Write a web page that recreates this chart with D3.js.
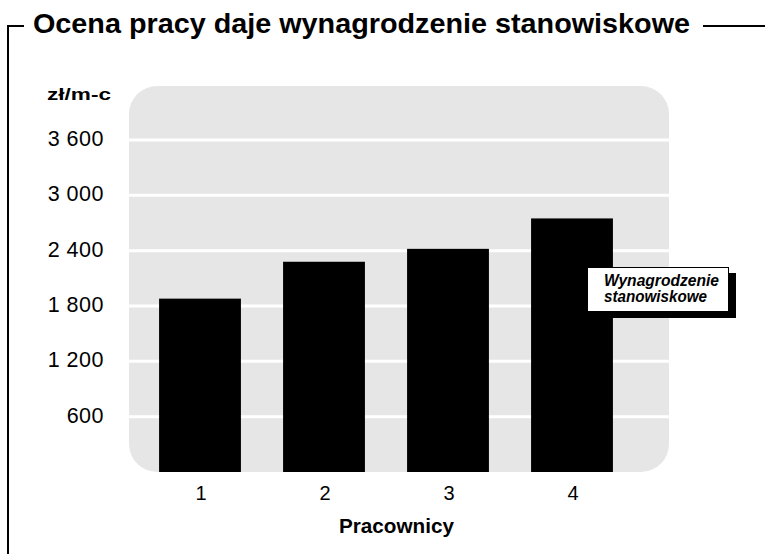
<!DOCTYPE html>
<html><head><meta charset="utf-8">
<script src="https://cdn.jsdelivr.net/npm/d3@7/dist/d3.min.js"></script>
<style>body{margin:0;background:#fff}svg{display:block}text{font-family:"Liberation Sans",Arial,sans-serif}</style>
</head><body>
<script>
const categories = ["1","2","3","4"];
const values = [1880, 2280, 2420, 2750];
const yTicks = [600, 1200, 1800, 2400, 3000, 3600];
const yTickLabels = ["600","1 200","1 800","2 400","3 000","3 600"];
const title = "Ocena pracy daje wynagrodzenie stanowiskowe";
const yUnit = "zł/m-c";
const xTitle = "Pracownicy";
const legendLines = ["Wynagrodzenie","stanowiskowe"];

const W=765,H=554;
const svg=d3.select("body").append("svg").attr("width",W).attr("height",H);
const plot={l:129,r:669,t:86,b:472};
const y=d3.scaleLinear().domain([0,4186]).range([plot.b,plot.t]);
const x=d3.scaleBand().domain(categories).range([138,634]).paddingInner(0.34).paddingOuter(0.17);

// frame
svg.append("path").attr("d","M8,554 L8,26 L24,26").attr("fill","none").attr("stroke","#000").attr("stroke-width",2);
svg.append("line").attr("x1",703).attr("x2",765).attr("y1",26).attr("y2",26).attr("stroke","#000").attr("stroke-width",2);
svg.append("text").attr("x",33).attr("y",33).attr("font-size",27).attr("font-weight","bold")
 .attr("textLength",657).attr("lengthAdjust","spacingAndGlyphs").text(title);

// plot bg
svg.append("rect").attr("x",plot.l).attr("y",plot.t).attr("width",plot.r-plot.l).attr("height",plot.b-plot.t).attr("rx",28).attr("fill","#e6e6e6");
// grid
svg.append("g").selectAll("line").data(yTicks).join("line")
 .attr("x1",plot.l).attr("x2",plot.r).attr("y1",d=>y(d)).attr("y2",d=>y(d)).attr("stroke","#fff").attr("stroke-width",3);
// bars
svg.append("g").selectAll("rect").data(values).join("rect")
 .attr("x",(d,i)=>x(categories[i])).attr("width",x.bandwidth()).attr("y",d=>y(d)).attr("height",d=>plot.b-y(d)).attr("fill","#000");
// y labels
svg.append("g").selectAll("text").data(yTicks).join("text")
 .attr("x",104).attr("y",d=>y(d)+6).attr("text-anchor","end").attr("font-size",21.5).attr("letter-spacing",0.5).text((d,i)=>yTickLabels[i]);
svg.append("text").attr("x",47).attr("y",100).attr("font-size",17).attr("font-weight","bold")
 .attr("textLength",64).attr("lengthAdjust","spacingAndGlyphs").text(yUnit);
// x labels
svg.append("g").selectAll("text").data(categories).join("text")
 .attr("x",d=>x(d)+x.bandwidth()/2+1).attr("y",500).attr("text-anchor","middle").attr("font-size",20).text(d=>d);
svg.append("text").attr("x",339).attr("y",533).attr("font-size",21).attr("font-weight","bold")
 .attr("textLength",115).attr("lengthAdjust","spacingAndGlyphs").text(xTitle);
// legend
svg.append("rect").attr("x",594).attr("y",273).attr("width",142).attr("height",45).attr("fill","#000");
svg.append("rect").attr("x",587.5).attr("y",267.5).attr("width",141).attr("height",44).attr("fill","#fff").attr("stroke","#000").attr("stroke-width",1);
svg.append("g").selectAll("text").data(legendLines).join("text")
 .attr("x",604).attr("y",(d,i)=>286+i*16).attr("font-size",16).attr("font-weight","bold").attr("font-style","italic")
 .attr("textLength",(d,i)=>[115,103][i]).attr("lengthAdjust","spacingAndGlyphs").text(d=>d);
</script>
</body></html>
